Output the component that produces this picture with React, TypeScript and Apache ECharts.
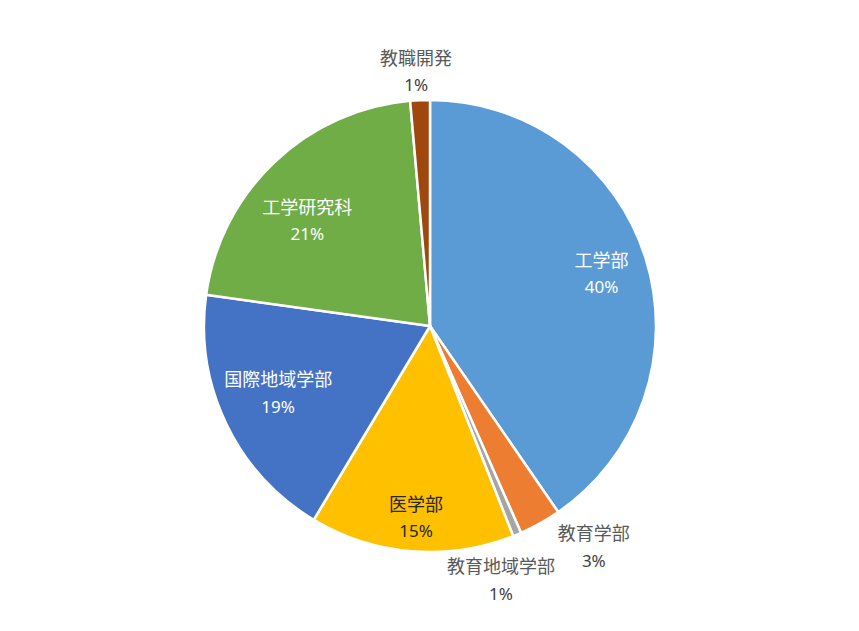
import React, { useEffect, useRef } from 'react';
import * as echarts from 'echarts';

const categories = ['工学部', '教育学部', '教育地域学部', '医学部', '国際地域学部', '工学研究科', '教職開発'];
const shares = [40.4, 3.0, 0.6, 14.6, 18.6, 21.4, 1.4];

const sliceColors = ['#5B9BD5', '#ED7D31', '#A5A5A5', '#FFC000', '#4472C4', '#70AD47', '#9E480E'];
// label tone per slice, and label placement as [radius factor, angle shift in degrees]
const labelTones = ['light', 'gray', 'gray', 'dark', 'light', 'light', 'gray'];
const labelPlaces = [
  [0.795, 0],
  [1.214, -7.5],
  [1.163, 7],
  [0.847, -0.5],
  [0.733, 2],
  [0.718, -5.6],
  [1.13, -0.6],
];

const CX = 430;
const CY = 326;
const R = 226;

const App: React.FC = () => {
  const chartRef = useRef<HTMLDivElement>(null);

  useEffect(() => {
    if (!chartRef.current) return;
    const chart = echarts.init(chartRef.current, null, { renderer: 'svg' });

    const total = shares.reduce((a, b) => a + b, 0);
    const mids: number[] = [];
    let acc = 0;
    shares.forEach((v) => {
      mids.push(((acc + v / 2) / total) * 360);
      acc += v;
    });

    const toneRich = (key: string, name: string, pct: string) => `{${key}n|${name}}\n{${key}p|${pct}}`;
    const nameStyle = { fontSize: 18, lineHeight: 28, fontFamily: 'Noto Sans CJK JP', align: 'center' };
    const pctStyle = { fontSize: 17, lineHeight: 28, fontFamily: 'Noto Sans', align: 'center' };

    const option = {
      animation: false,
      series: [
        {
          type: 'pie',
          center: [CX, CY],
          radius: [0, R],
          startAngle: 90,
          clockwise: true,
          data: categories.map((name, i) => ({
            name,
            value: shares[i],
            itemStyle: { color: sliceColors[i] },
          })),
          itemStyle: { borderColor: '#ffffff', borderWidth: 2.5 },
          labelLine: { show: false },
          label: {
            show: true,
            position: 'inside',
            formatter: (p: any) =>
              toneRich(labelTones[p.dataIndex], p.name, Math.round(p.percent) + '%'),
            rich: {
              lightn: { ...nameStyle, color: '#ffffff' },
              lightp: { ...pctStyle, color: '#ffffff' },
              grayn: { ...nameStyle, color: '#595959' },
              grayp: { ...pctStyle, color: '#404040' },
              darkn: { ...nameStyle, color: '#262626' },
              darkp: { ...pctStyle, color: '#262626' },
            },
          },
          labelLayout: (params: any) => {
            const i = params.dataIndex;
            const [f, shift] = labelPlaces[i];
            const a = ((mids[i] + shift) * Math.PI) / 180;
            return {
              x: CX + f * R * Math.sin(a),
              y: CY - f * R * Math.cos(a),
              align: 'center',
              verticalAlign: 'middle',
            };
          },
          emphasis: { disabled: true },
        },
      ],
    };

    chart.setOption(option);
    return () => {
      chart.dispose();
    };
  }, []);

  return (
    <div
      ref={chartRef}
      style={{ position: 'fixed', left: 0, top: 0, width: 859, height: 631, background: '#ffffff' }}
    />
  );
};

export default App;
